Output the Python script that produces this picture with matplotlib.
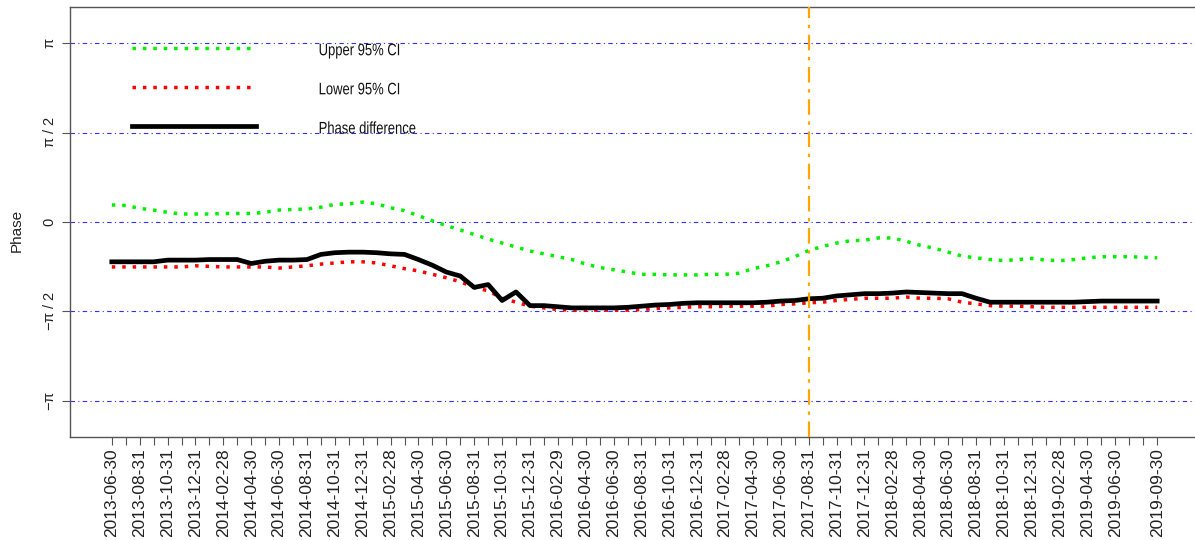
import numpy as np
import pandas as pd
import matplotlib
matplotlib.use("Agg")
import matplotlib.pyplot as plt
from matplotlib.font_manager import FontProperties
from matplotlib.textpath import TextPath
from matplotlib.patches import PathPatch
from matplotlib.transforms import Affine2D, IdentityTransform

# monthly series, end-of-month dates
months = pd.date_range("2013-06-30", "2019-09-30", freq="ME").strftime("%Y-%m-%d").tolist()

# phase (radians)
phase_diff = [-0.70, -0.70, -0.70, -0.70, -0.67, -0.67, -0.67, -0.66, -0.66, -0.66,
              -0.73, -0.69, -0.67, -0.67, -0.66, -0.57, -0.54, -0.53, -0.53, -0.54,
              -0.56, -0.57, -0.66, -0.76, -0.88, -0.95, -1.15, -1.10, -1.38, -1.23,
              -1.47, -1.47, -1.49, -1.51, -1.51, -1.51, -1.51, -1.50, -1.48, -1.46,
              -1.45, -1.43, -1.42, -1.42, -1.42, -1.42, -1.42, -1.41, -1.39, -1.38,
              -1.35, -1.34, -1.30, -1.28, -1.26, -1.26, -1.25, -1.23, -1.24, -1.25,
              -1.26, -1.26, -1.34, -1.41, -1.41, -1.41, -1.41, -1.41, -1.41, -1.41,
              -1.40, -1.39, -1.39, -1.39, -1.39, -1.39]
upper_ci = [0.30, 0.29, 0.24, 0.21, 0.17, 0.14, 0.14, 0.14, 0.15, 0.15,
            0.15, 0.17, 0.21, 0.22, 0.23, 0.26, 0.31, 0.32, 0.35, 0.32,
            0.25, 0.20, 0.11, 0.02, -0.06, -0.14, -0.22, -0.30, -0.37, -0.44,
            -0.51, -0.56, -0.61, -0.66, -0.74, -0.80, -0.84, -0.88, -0.92, -0.92,
            -0.93, -0.93, -0.93, -0.92, -0.92, -0.90, -0.82, -0.77, -0.70, -0.61,
            -0.50, -0.43, -0.37, -0.33, -0.32, -0.28, -0.28, -0.34, -0.41, -0.46,
            -0.53, -0.60, -0.63, -0.66, -0.68, -0.66, -0.64, -0.67, -0.68, -0.66,
            -0.63, -0.61, -0.61, -0.61, -0.62, -0.63]
lower_ci = [-0.79, -0.79, -0.79, -0.79, -0.79, -0.79, -0.77, -0.78, -0.79, -0.79,
            -0.79, -0.79, -0.81, -0.79, -0.77, -0.74, -0.72, -0.70, -0.70, -0.72,
            -0.77, -0.82, -0.86, -0.92, -0.98, -1.05, -1.15, -1.21, -1.34, -1.41,
            -1.48, -1.51, -1.54, -1.55, -1.55, -1.55, -1.55, -1.55, -1.54, -1.52,
            -1.51, -1.50, -1.49, -1.49, -1.48, -1.48, -1.48, -1.48, -1.45, -1.44,
            -1.42, -1.41, -1.38, -1.36, -1.34, -1.34, -1.34, -1.32, -1.34, -1.34,
            -1.35, -1.41, -1.44, -1.47, -1.48, -1.48, -1.49, -1.50, -1.50, -1.50,
            -1.50, -1.50, -1.50, -1.50, -1.50, -1.50]

event_date = "2017-08-31"
ytick_vals = [-np.pi, -np.pi / 2, 0, np.pi / 2, np.pi]
ytick_labels = [r"$-\pi$", r"$-\pi\ /\ 2$", "0", r"$\pi\ /\ 2$", r"$\pi$"]

plt.rcParams["font.family"] = ["Liberation Sans", "DejaVu Sans"]
plt.rcParams["mathtext.fontset"] = "custom"
plt.rcParams["mathtext.rm"] = "Liberation Sans"
plt.rcParams["mathtext.it"] = "Liberation Sans"

DPI = 100
x = np.arange(len(months))

fig = plt.figure(figsize=(11.95, 5.4), dpi=DPI)
ax = fig.add_axes([70 / 1195, 1 - 437 / 540, 1129 / 1195, 430 / 540])

for yv in ytick_vals:
    ax.axhline(yv, color="#3030ff", lw=0.8, dashes=(4, 3, 1, 3), zorder=1)

l_up, = ax.plot(x, upper_ci, color="#00ee00", lw=2.5, linestyle=(0, (1, 2.0)), label="Upper 95% CI")
l_lo, = ax.plot(x, lower_ci, color="#ff0000", lw=2.5, linestyle=(0, (1, 2.0)), label="Lower 95% CI")
l_ph, = ax.plot(x, phase_diff, color="black", lw=3.4, label="Phase difference")

ax.axvline(months.index(event_date), color="#ffa500", lw=1.6, dashes=(7, 3, 1.5, 3), zorder=3)

ax.set_xlim(-3, len(months) + 2)
ax.set_ylim(-3.78, 3.78)

# every month gets a tick, labels every second month plus the last one
lab_idx = list(range(0, len(months) - 2, 2)) + [len(months) - 1]
ax.set_xticks(x)
ax.set_xticklabels([months[i] if i in lab_idx else "" for i in x], rotation=90, fontsize=12.5, color="#222222")
ax.set_yticks(ytick_vals)
ax.set_yticklabels(ytick_labels, rotation=90, va="center", fontsize=10.5, color="#222222")
ax.tick_params(direction="out", length=6, width=0.8, color="#555555")
ax.tick_params(axis="x", pad=2)
ax.set_ylabel("Phase", fontsize=11, color="#222222", labelpad=12)
ax.yaxis.set_label_coords(-0.041, 0.48)

for s in ax.spines.values():
    s.set_color("#555555")
    s.set_linewidth(1.0)

leg = ax.legend(handles=[l_up, l_lo, l_ph], loc="upper left", bbox_to_anchor=(0.0549, 0.918),
                frameon=False, borderpad=0, borderaxespad=0, handlelength=8.5,
                handletextpad=4.3, labelspacing=1.72, prop={"size": 10.5})

# legend labels are drawn as horizontally squeezed text paths
fig.canvas.draw()
fp = FontProperties(family="Liberation Sans")
size_pt = 12
px = DPI / 72.0
renderer = fig.canvas.get_renderer()
for t in leg.get_texts():
    bb = t.get_window_extent(renderer)
    t.set_alpha(0)
    path = TextPath((0, 0), t.get_text(), size=size_pt, prop=fp)
    cap = 0.716 * size_pt * px
    tr = Affine2D().scale(0.78 * px, px).translate(bb.x0, (bb.y0 + bb.y1) / 2 - cap / 2)
    fig.add_artist(PathPatch(tr.transform_path(path), transform=IdentityTransform(),
                             facecolor="#111111", edgecolor="none"))

fig.savefig("out.png", dpi=DPI)
